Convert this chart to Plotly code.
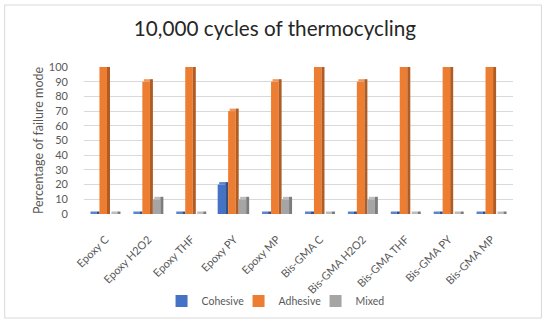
import plotly.graph_objects as go

categories = ["Epoxy C", "Epoxy H2O2", "Epoxy THF", "Epoxy PY", "Epoxy MP",
              "Bis-GMA C", "Bis-GMA H2O2", "Bis-GMA THF", "Bis-GMA PY", "Bis-GMA MP"]
cohesive = [0, 0, 0, 20, 0, 0, 0, 0, 0, 0]
adhesive = [100, 90, 100, 70, 90, 100, 90, 100, 100, 100]
mixed = [0, 10, 0, 10, 10, 0, 10, 0, 0, 0]
series_names = ["Cohesive", "Adhesive", "Mixed"]
y_ticks = [0, 10, 20, 30, 40, 50, 60, 70, 80, 90, 100]

# style: (front, top, side)
colors = [("#4472C4", "#5A84CE", "#2F528F"),
          ("#ED7D31", "#F1955A", "#B05C22"),
          ("#A5A5A5", "#BDBDBD", "#7C7C7C")]

PERIOD = 0.244   # distance between series inside a group (category units)
FRONT = 0.176    # width of the front face
SIDE = 0.07      # width of the side face
DEPTH = 1.7      # vertical depth of the 3-D effect (value units)

W, H = 550, 327
L, R = 83.5, 513.5     # plot area x (px)
T, B = 67, 214         # plot area y (px)

fig = go.Figure()
data = [cohesive, adhesive, mixed]
for k, (name, vals, (cf, ct, cs)) in enumerate(zip(series_names, data, colors)):
    start = (k - 1) * PERIOD - 0.14
    n = len(categories)
    # front face
    fig.add_trace(go.Bar(
        x=categories, y=vals, name=name, marker=dict(color=cf, line=dict(width=0)),
        offset=start, width=FRONT, cliponaxis=False, showlegend=True,
        legendrank=k, hoverinfo="x+y+name"))
    # top face
    fig.add_trace(go.Bar(
        x=categories, y=[DEPTH] * n, base=vals, marker=dict(color=ct, line=dict(width=0)),
        offset=start + SIDE / 2, width=FRONT - SIDE / 2, cliponaxis=False,
        showlegend=False, hoverinfo="skip"))
    # side face
    fig.add_trace(go.Bar(
        x=categories, y=[v + DEPTH for v in vals], base=[0] * n,
        marker=dict(color=cs, line=dict(width=0)),
        offset=start + FRONT, width=SIDE, cliponaxis=False,
        showlegend=False, hoverinfo="skip"))

font = "Lato, 'Open Sans', sans-serif"
fig.update_layout(
    width=W, height=H,
    margin=dict(l=L, r=W - R, t=T, b=H - B, autoexpand=False),
    barmode="overlay",
    paper_bgcolor="white", plot_bgcolor="white",
    font=dict(family=font, color="#595959"),
    title=dict(text="10,000 cycles of thermocycling", x=275 / W, xref="container",
               xanchor="center", y=1 - 28.5 / H, yref="container", yanchor="middle",
               font=dict(size=20.7, color="#262626", family=font)),
    xaxis=dict(type="category", range=[-0.5, 9.5], tickangle=-45,
               tickfont=dict(size=11, color="#595959"), showgrid=False,
               showline=False, zeroline=False, ticks="", ticklabelstandoff=16,
               fixedrange=True),
    yaxis=dict(range=[0, 100], tickvals=y_ticks, showgrid=True, gridcolor="#D9D9D9",
               gridwidth=1, zeroline=False, showline=False, ticks="",
               tickfont=dict(size=11, color="#595959"), ticklabelstandoff=15,
               title=dict(text="Percentage of failure mode", standoff=2,
                          font=dict(size=12.5, color="#595959")),
               fixedrange=True),
    legend=dict(orientation="h", x=(277 - L) / (R - L), xanchor="center",
                y=(B - 301) / (B - T), yanchor="middle",
                font=dict(size=10.5, color="#595959"), traceorder="normal",
                itemwidth=30, entrywidth=32, entrywidthmode="pixels",
                bgcolor="rgba(0,0,0,0)"),
    showlegend=True,
)

# chart frame
fig.add_shape(type="rect", xref="paper", yref="paper",
              x0=(4 - L) / (R - L), x1=(542 - L) / (R - L),
              y0=(B - 318) / (B - T), y1=(B - 5) / (B - T),
              line=dict(color="#D9D9D9", width=1), fillcolor="rgba(0,0,0,0)", layer="below")

fig.write_html("out.html",
               config={"displayModeBar": False},
               post_script="document.body.style.margin='0';"
                           "document.body.style.overflow='hidden';")
